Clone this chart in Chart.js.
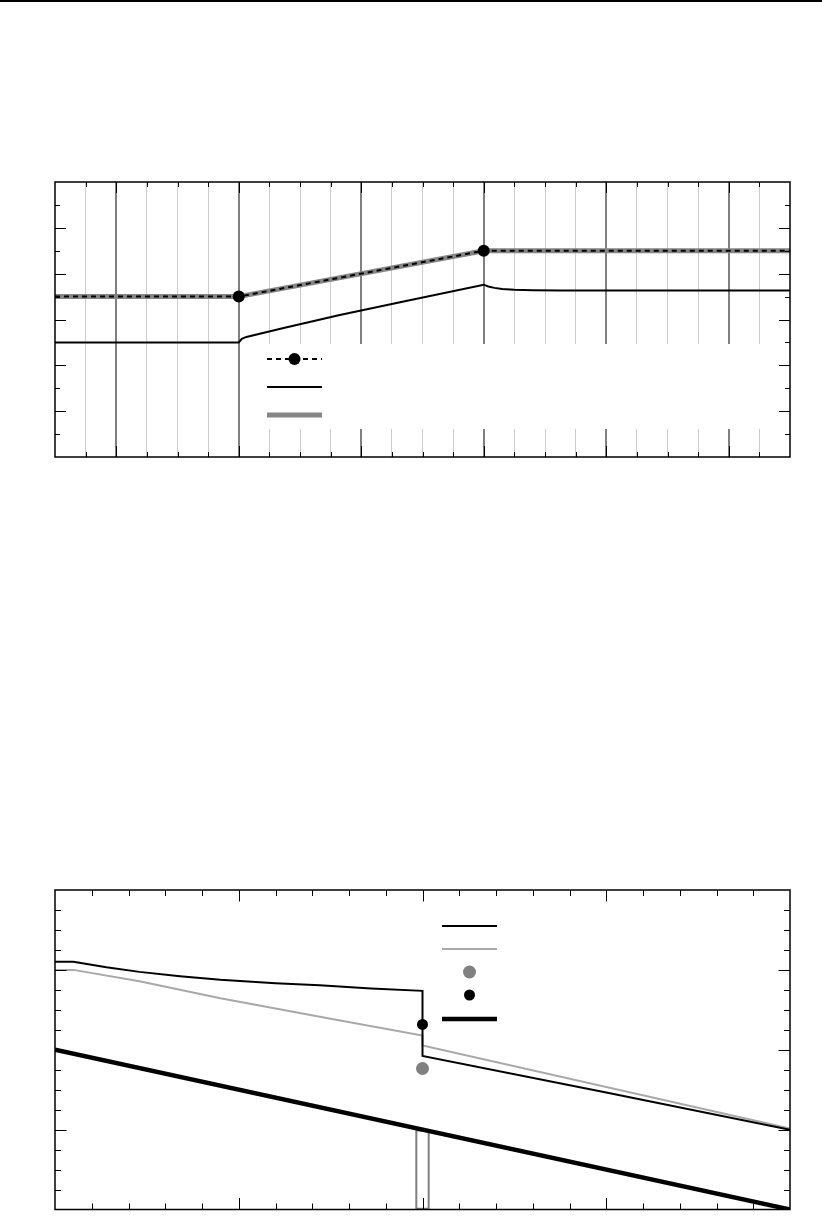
<!DOCTYPE html>
<html>
<head>
<meta charset="utf-8">
<script src="https://cdn.jsdelivr.net/npm/chart.js@4.4.1/dist/chart.umd.min.js"></script>
<style>
  html, body { margin: 0; padding: 0; background: #fff; }
  body { width: 822px; height: 1216px; position: relative; overflow: hidden; }
  #rule { position: absolute; left: 0; top: 0; width: 822px; height: 2px; background: #000; }
  canvas { position: absolute; left: 0; }
  #topChart { top: 150px; }
  #bottomChart { top: 860px; }
</style>
</head>
<body>
<div id="rule"></div>
<canvas id="topChart" width="822" height="340"></canvas>
<canvas id="bottomChart" width="822" height="356"></canvas>
<script>
// ---- upper panel ----
const topXTicks = [0,1,2,3,4,5,6,7,8,9,10,11,12,13,14,15,16,17,18,19,20,21,22,23,24];
const topXMajor = [2,6,10,14,18,22];
const topYTicks = [0,1,2,3,4,5,6,7,8,9,10,11,12];
const topYMajor = [2,4,6,8,10];

const topDashX = [0, 6, 14, 24];
const topDashY = [7, 7, 9, 9];
const topSolidX = [0, 6, 6.1, 6.25, 7.5, 9.3, 11.5, 14, 14.15, 14.35, 14.6, 15, 15.6, 16.5, 24];
const topSolidY = [5, 5, 5.16, 5.24, 5.64, 6.2, 6.82, 7.52, 7.44, 7.38, 7.33, 7.3, 7.28, 7.27, 7.27];

// ---- lower panel ----
const botXTicks = [0,1,2,3,4,5,6,7,8,9,10,11,12,13,14,15,16,17,18,19,20];
const botXMajor = [5,10,15];
const botYTicks = [0,1,2,3,4,5,6,7,8,9,10,11,12,13,14,15,16];
const botYMajor = [4,8,12];

const botBlackX = [0, 0.5, 1.4, 2.3, 3.4, 4.5, 6, 7.2, 8.6, 10, 10, 15, 20];
const botBlackY = [12.41, 12.41, 12.13, 11.9, 11.68, 11.5, 11.33, 11.23, 11.07, 10.95, 7.69, 5.86, 3.99];
const botGrayX = [0, 0.5, 2.3, 4.5, 7.5, 10, 10, 20];
const botGrayY = [12.0, 12.0, 11.43, 10.58, 9.55, 8.71, 8.22, 4.06];
const botThickX = [0, 20];
const botThickY = [8, 0];
const botGrayDot = [{ x: 10, y: 7.06 }];
const botBlackDot = [{ x: 10, y: 9.27 }];
const botBar = [{ x: 10, y: 4 }];

function pts(xs, ys) { return xs.map((x, i) => ({ x: x, y: ys[i] })); }

// inward tick marks + frame
const frameTicks = {
  id: 'frameTicks',
  afterDraw(chart, args, o) {
    const { ctx, chartArea: a } = chart;
    const x = chart.scales.x, y = chart.scales.y;
    ctx.save();
    ctx.strokeStyle = '#000';
    ctx.lineWidth = 1;
    ctx.beginPath();
    x.ticks.forEach(t => {
      if (t.value <= x.min || t.value >= x.max) return;
      const px = Math.round(x.getPixelForValue(t.value)) + 0.5;
      const len = o.xMajor.includes(t.value) ? o.major : o.minor;
      ctx.moveTo(px, a.top); ctx.lineTo(px, a.top + len);
      ctx.moveTo(px, a.bottom); ctx.lineTo(px, a.bottom - len);
    });
    y.ticks.forEach(t => {
      if (t.value <= y.min || t.value >= y.max) return;
      const py = Math.round(y.getPixelForValue(t.value)) + 0.5;
      const len = o.yMajor.includes(t.value) ? o.major : o.minor;
      ctx.moveTo(a.left, py); ctx.lineTo(a.left + len, py);
      ctx.moveTo(a.right, py); ctx.lineTo(a.right - len, py);
    });
    ctx.stroke();
    ctx.lineWidth = 1.5;
    ctx.strokeRect(a.left, a.top, a.right - a.left, a.bottom - a.top);
    ctx.restore();
  }
};

// legend drawn inside the plot, samples taken from the datasets
const keyBox = {
  id: 'keyBox',
  beforeDatasetsDraw(chart, args, o) {
    if (!o.box) return;
    const { ctx, chartArea: a } = chart;
    ctx.save();
    ctx.fillStyle = '#fff';
    ctx.fillRect(a.left + o.box[0], a.top + o.box[1], a.right - a.left - o.box[0], o.box[2]);
    ctx.restore();
  },
  afterDraw(chart, args, o) {
    const { ctx, chartArea: a } = chart;
    const x0 = a.left + o.x, x1 = x0 + o.w, xc = (x0 + x1) / 2;
    ctx.save();
    o.entries.forEach(e => {
      const ds = chart.data.datasets[e.ds];
      const yc = a.top + e.y;
      if (e.line) {
        ctx.strokeStyle = ds.borderColor;
        ctx.lineWidth = ds.borderWidth;
        ctx.setLineDash(ds.borderDash || []);
        ctx.beginPath();
        ctx.moveTo(x0, yc); ctx.lineTo(x1, yc);
        ctx.stroke();
        ctx.setLineDash([]);
      }
      if (e.dot) {
        ctx.fillStyle = ds.pointBackgroundColor || ds.backgroundColor;
        ctx.beginPath();
        ctx.arc(xc, yc, e.dot, 0, Math.PI * 2);
        ctx.fill();
      }
    });
    ctx.restore();
  }
};

function linScale(min, max, ticks, extra) {
  return Object.assign({
    type: 'linear', min: min, max: max, offset: false,
    ticks: { display: false, autoSkip: false },
    border: { display: false },
    grid: { display: false, drawTicks: false },
    afterBuildTicks: s => { s.ticks = ticks.map(v => ({ value: v })); }
  }, extra || {});
}

// nudge layout padding so the plot box lands where the reference has it
function fitArea(chart, want) {
  const a = chart.chartArea, p = chart.options.layout.padding;
  p.left += want.left - a.left;
  p.top += want.top - a.top;
  p.right += a.right - want.right;
  p.bottom += a.bottom - want.bottom;
  chart.update();
}

const topChart = new Chart(document.getElementById('topChart'), {
  type: 'line',
  data: {
    datasets: [
      { data: pts(topDashX, topDashY), borderColor: '#000', borderWidth: 2, borderDash: [5, 4],
        pointRadius: [0, 6, 6, 0], pointBackgroundColor: '#000', pointBorderWidth: 0, order: 1 },
      { data: pts(topSolidX, topSolidY), borderColor: '#000', borderWidth: 2, pointRadius: 0, order: 2 },
      { data: pts(topDashX, topDashY), borderColor: '#858585', borderWidth: 5, pointRadius: 0, order: 3 }
    ]
  },
  options: {
    responsive: false, animation: false, events: [],
    layout: { padding: { left: 55, right: 32, top: 32, bottom: 33 } },
    scales: {
      x: linScale(0, 24, topXTicks, {
        afterFit: s => { s.height = 0; },
        grid: {
          display: true, drawTicks: false,
          color: c => topXMajor.includes(c.tick.value) ? '#808080'
                    : (c.tick.value === 0 || c.tick.value === 24 ? 'rgba(0,0,0,0)' : '#cccccc'),
          lineWidth: c => topXMajor.includes(c.tick.value) ? 2 : 1
        }
      }),
      y: linScale(0, 12, topYTicks, { afterFit: s => { s.width = 0; } })
    },
    plugins: {
      legend: { display: false }, tooltip: { enabled: false },
      frameTicks: { xMajor: topXMajor, yMajor: topYMajor, minor: 5, major: 11 },
      keyBox: {
        box: [200, 162, 85], x: 212, w: 55,
        entries: [ { ds: 0, y: 177, line: true, dot: 6 }, { ds: 1, y: 205, line: true }, { ds: 2, y: 233, line: true } ]
      }
    }
  },
  plugins: [frameTicks, keyBox]
});
fitArea(topChart, { left: 55, right: 790, top: 32, bottom: 307 });

const bottomChart = new Chart(document.getElementById('bottomChart'), {
  type: 'line',
  data: {
    datasets: [
      { type: 'scatter', data: botBlackDot, pointRadius: 5.5, pointBackgroundColor: '#000', backgroundColor: '#000',
        pointBorderWidth: 0, order: 1 },
      { type: 'scatter', data: botGrayDot, pointRadius: 6.5, pointBackgroundColor: '#808080', backgroundColor: '#808080',
        pointBorderWidth: 0, order: 2 },
      { data: pts(botBlackX, botBlackY), borderColor: '#000', borderWidth: 2, pointRadius: 0, order: 3 },
      { data: pts(botGrayX, botGrayY), borderColor: '#a8a8a8', borderWidth: 2, pointRadius: 0, order: 4 },
      { data: pts(botThickX, botThickY), borderColor: '#000', borderWidth: 4.5, pointRadius: 0, order: 5 },
      { type: 'bar', data: botBar, borderColor: '#808080', borderWidth: 1.5, backgroundColor: 'rgba(0,0,0,0)',
        barThickness: 14, borderSkipped: false, order: 6 }
    ]
  },
  options: {
    responsive: false, animation: false, events: [],
    layout: { padding: { left: 55, right: 32, top: 30, bottom: 2 } },
    scales: {
      x: linScale(0, 20, botXTicks, { afterFit: s => { s.height = 0; } }),
      y: linScale(0, 16, botYTicks, { afterFit: s => { s.width = 0; } })
    },
    plugins: {
      legend: { display: false }, tooltip: { enabled: false },
      frameTicks: { xMajor: botXMajor, yMajor: botYMajor, minor: 6, major: 11.5 },
      keyBox: {
        x: 387, w: 55,
        entries: [ { ds: 2, y: 36, line: true }, { ds: 3, y: 59, line: true }, { ds: 1, y: 82, dot: 6.5 },
                   { ds: 0, y: 105, dot: 5.5 }, { ds: 4, y: 129, line: true } ]
      }
    }
  },
  plugins: [frameTicks, keyBox]
});
fitArea(bottomChart, { left: 55, right: 790, top: 30, bottom: 354 });
</script>
</body>
</html>
